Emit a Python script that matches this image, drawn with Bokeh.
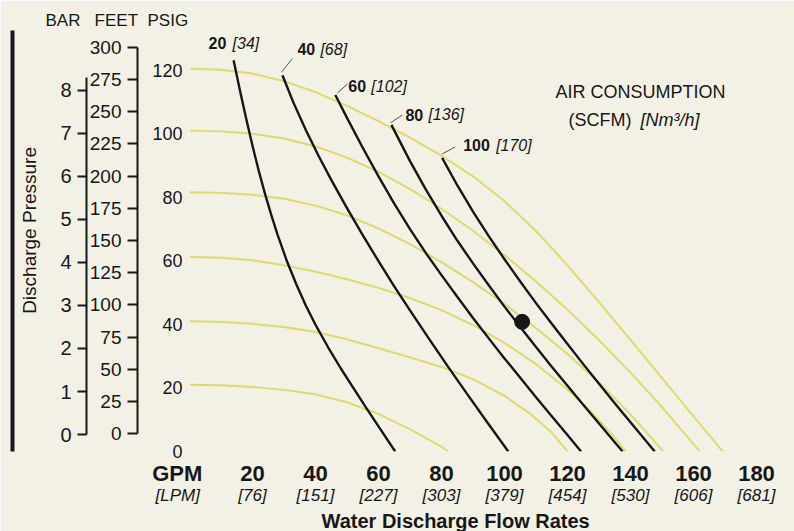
import math
from bokeh.plotting import figure
from bokeh.models import Range1d, LinearAxis, FixedTicker, Label, Title
from bokeh.core.properties import value
from bokeh.embed import file_html
from bokeh.resources import INLINE

# ---------------- data ----------------
gpm_ticks = [0, 20, 40, 60, 80, 100, 120, 140, 160, 180]
gpm_labels = ["GPM", "20", "40", "60", "80", "100", "120", "140", "160", "180"]
lpm_labels = ["[LPM]", "[76]", "[151]", "[227]", "[303]", "[379]", "[454]", "[530]", "[606]", "[681]"]
psig_ticks = [0, 20, 40, 60, 80, 100, 120]
feet_ticks = [0, 25, 50, 75, 100, 125, 150, 175, 200, 225, 250, 275, 300]
bar_ticks = [0, 1, 2, 3, 4, 5, 6, 7, 8]

# air inlet pressure lines (yellow): flow GPM -> discharge PSIG
air20_q = [0, 10, 20, 30, 40, 50, 60, 70, 80, 82]
air20_p = [21, 20.85, 20.3, 19.4, 18.0, 15.5, 11.8, 7.0, 1.5, 0]
air40_q = [0, 10, 20, 30, 40, 50, 60, 70, 80, 90, 100, 108, 115, 120]
air40_p = [41, 40.8, 40.2, 39.2, 37.6, 35.3, 32.5, 29.6, 26.6, 22.8, 17.5, 12, 6, 0]
air60_q = [0, 10, 20, 30, 40, 50, 60, 70, 80, 90, 100, 110, 120, 128, 134, 138.5]
air60_p = [61.25, 61, 60.2, 58.6, 56.6, 54.2, 51.5, 48.3, 44.5, 39.8, 34.2, 27.5, 19.5, 12, 5.5, 0]
air80_q = [0, 10, 20, 30, 40, 50, 60, 70, 80, 90, 100, 110, 120, 130, 140, 150.4]
air80_p = [81.6, 81.4, 80.8, 79.55, 77.4, 74.3, 70.2, 65.25, 59.6, 53.3, 46.4, 38.9, 30.7, 21.7, 11.7, 0]
air100_q = [0, 10, 20, 30, 40, 50, 60, 70, 80, 90, 100, 110, 120, 130, 140, 150, 160, 162]
air100_p = [101, 100.75, 100, 98.5, 96, 92.5, 88, 82.6, 76.4, 69.45, 61.8, 53.5, 44.6, 35.05, 24.85, 13.95, 2.35, 0]
air120_q = [0, 10, 20, 30, 40, 50, 60, 70, 80, 90, 100, 110, 120, 130, 140, 150, 160, 169.3]
air120_p = [120.5, 120.15, 118.95, 116.55, 113.1, 108.8, 104.0, 98.8, 93.1, 86.6, 78.8, 69.4, 58.6, 47, 35.1, 23.1, 11.1, 0]

# air consumption lines (black): flow GPM -> discharge PSIG
scfm20_q = [14, 16, 18, 20, 22, 24, 26, 28, 31, 34, 37, 40, 44, 48, 52, 56, 60, 65.3]
scfm20_p = [123.1, 113.7, 104.7, 96.2, 88.3, 81, 74.3, 68.1, 59.7, 52.4, 45.8, 39.9, 32.8, 26.2, 20, 13.9, 7.9, 0]
scfm40_q = [29.5, 33, 37, 41, 45, 50, 55, 60, 65, 70, 76, 82, 88, 94, 101.2]
scfm40_p = [118.4, 109.8, 101, 93, 85.5, 76.6, 68.1, 59.9, 52, 44.4, 35.5, 26.8, 18.3, 9.9, 0]
scfm60_q = [46.3, 50, 55, 60, 65, 70, 75, 80, 85, 90, 95, 100, 105, 110, 115, 120, 124.3]
scfm60_p = [112.2, 105, 95.6, 86.6, 78, 70, 62.5, 55.5, 48.7, 42, 35.6, 29.3, 23.2, 17.1, 11.1, 5.2, 0]
scfm80_q = [64.1, 70, 75, 80, 85, 90, 95, 100, 105, 110, 115, 120, 125, 130, 135, 137.5]
scfm80_p = [102.8, 91.4, 82.5, 74.2, 66.4, 59.2, 52.3, 45.6, 39.2, 32.9, 26.7, 20.7, 14.7, 8.8, 2.9, 0]
scfm100_q = [80.2, 85, 90, 95, 100, 105, 110, 115, 120, 125, 130, 135, 140, 145, 147.7]
scfm100_p = [92.4, 83.8, 75.5, 67.8, 60.5, 53.5, 46.7, 40.2, 33.8, 27.5, 21.3, 15.2, 9.2, 3.2, 0]

scfm_values = [20, 40, 60, 80, 100]
nm3h_values = [34, 68, 102, 136, 170]

point_q = [105.6]
point_p = [40.8]

# ---------------- layout ----------------
FONT = "Liberation Sans"
BG = "#F3F0E5"
YELLOW = "#DEDA6C"
INK = "#171717"
NB = "\u00a0"

PAGE_X0, PAGE_Y0 = 0, 0
CANVAS_W, CANVAS_H = 794, 531
FRAME_L, FRAME_T = 189, 30        # frame edges on the page
FRAME_R, FRAME_B = PAGE_X0 + CANVAS_W, 454
X_END = (FRAME_R - FRAME_L) / 3.15
Y_END = (FRAME_B - FRAME_T) / 3.2
SX = (FRAME_R - FRAME_L) / X_END
SY = (FRAME_B - FRAME_T) / Y_END


def x_of(px):
    return (px - FRAME_L) / SX


def y_of(py):
    return (FRAME_B - py) / SY


p = figure(width=CANVAS_W, height=CANVAS_H, output_backend="svg", toolbar_location=None,
           x_range=Range1d(0, X_END), y_range=Range1d(0, Y_END),
           min_border_left=FRAME_L - PAGE_X0, min_border_right=0,
           min_border_top=FRAME_T - PAGE_Y0, min_border_bottom=PAGE_Y0 + CANVAS_H - FRAME_B,
           background_fill_color=BG, border_fill_color=BG, outline_line_color=None)
p.xgrid.visible = False
p.ygrid.visible = False

# header over the three pressure scales
p.title.text = "BAR" + NB * 3 + "FEET" + NB * 2 + "PSIG"
p.title.align = "left"
p.title.offset = 45 - FRAME_L
p.title.text_font = FONT
p.title.text_font_size = "17px"
p.title.text_font_style = "normal"
p.title.text_color = INK
p.title.standoff = 2

# extra ranges: feet of water and bar
feet_px = (436 - 47) / 300.0
bar_px = (437 - 90) / 8.0
feet0 = -(FRAME_B - 436) / feet_px
bar0 = -(FRAME_B - 437) / bar_px
p.extra_y_ranges = {
    "feet": Range1d(feet0, feet0 + (FRAME_B - FRAME_T) / feet_px),
    "bar": Range1d(bar0, bar0 + (FRAME_B - FRAME_T) / bar_px),
}

# PSIG axis (nearest to the frame)
ya = p.yaxis[0]
ya.ticker = FixedTicker(ticks=psig_ticks)
ya.axis_line_color = None
ya.major_tick_line_color = None
ya.major_tick_out = 0
ya.major_tick_in = 0
ya.minor_tick_line_color = None
ya.major_label_standoff = 7
ya.major_label_text_font = FONT
ya.major_label_text_font_size = "18px"
ya.major_label_text_color = INK
ya.axis_label = " "
ya.axis_label_text_font_size = "4px"
ya.axis_label_standoff = 4

feet_axis = LinearAxis(y_range_name="feet", ticker=FixedTicker(ticks=feet_ticks), bounds=(0, 300),
                       axis_line_width=2, axis_line_color=INK,
                       major_tick_out=10, major_tick_in=0, major_tick_line_width=2,
                       major_tick_line_color=INK, minor_tick_line_color=None,
                       major_label_standoff=6, major_label_text_font=FONT,
                       major_label_text_font_size="19px", major_label_text_color=INK)
p.add_layout(feet_axis, "left")

bar_axis = LinearAxis(y_range_name="bar", ticker=FixedTicker(ticks=bar_ticks), bounds=(0, 8.3),
                      axis_line_width=2, axis_line_color=INK,
                      major_tick_out=9, major_tick_in=0, major_tick_line_width=2,
                      major_tick_line_color=INK, minor_tick_line_color=None,
                      major_label_standoff=6, major_label_text_font=FONT,
                      major_label_text_font_size="20px", major_label_text_color=INK,
                      axis_label=NB * 4 + "Discharge Pressure", axis_label_standoff=17,
                      axis_label_text_font=FONT, axis_label_text_font_size="19px",
                      axis_label_text_font_style="normal", axis_label_text_color=INK)
p.add_layout(bar_axis, "left")

# small gap, then the black page border as the outermost left rule
spacer_axis = LinearAxis(ticker=FixedTicker(ticks=[]), axis_line_color=None,
                         major_tick_out=0, major_tick_in=0, major_label_standoff=0,
                         axis_label=" ", axis_label_text_font_size="1px", axis_label_standoff=0)
p.add_layout(spacer_axis, "left")
border_axis = LinearAxis(ticker=FixedTicker(ticks=[]), bounds=(-30, 150),
                         axis_line_color=INK, axis_line_width=4,
                         major_tick_out=0, major_tick_in=0, major_label_standoff=0)
p.add_layout(border_axis, "left")

# GPM axis
xa = p.xaxis[0]
xa.ticker = FixedTicker(ticks=gpm_ticks)
xa.major_label_overrides = {t: (s + NB * 4 if t == 0 else s) for t, s in zip(gpm_ticks, gpm_labels)}
xa.axis_line_color = None
xa.major_tick_line_color = None
xa.major_tick_out = 0
xa.major_tick_in = 0
xa.minor_tick_line_color = None
xa.major_label_standoff = 9
xa.major_label_text_font = FONT
xa.major_label_text_font_size = "22px"
xa.major_label_text_font_style = "bold"
xa.major_label_text_color = INK

lpm_axis = LinearAxis(ticker=FixedTicker(ticks=gpm_ticks),
                      major_label_overrides={t: (s + NB * 5 if t == 0 else s)
                                             for t, s in zip(gpm_ticks, lpm_labels)},
                      axis_line_color=None, major_tick_line_color=None, minor_tick_line_color=None,
                      major_tick_out=0, major_tick_in=0,
                      major_label_standoff=-3, major_label_text_font=FONT,
                      major_label_text_font_size="17px", major_label_text_font_style="italic",
                      major_label_text_color=INK)
p.add_layout(lpm_axis, "below")

p.add_layout(Title(text="Water Discharge Flow Rates", align="left", offset=321 - FRAME_L,
                   text_font=FONT, text_font_size="20px", text_font_style="bold",
                   text_color=INK, standoff=0), "below")

# ---------------- curves ----------------
for q, pr in [(air20_q, air20_p), (air40_q, air40_p), (air60_q, air60_p),
              (air80_q, air80_p), (air100_q, air100_p), (air120_q, air120_p)]:
    p.line(q, pr, line_color=YELLOW, line_width=1.9, line_join="round")

black = [(scfm20_q, scfm20_p), (scfm40_q, scfm40_p), (scfm60_q, scfm60_p),
         (scfm80_q, scfm80_p), (scfm100_q, scfm100_p)]
for q, pr in black:
    p.line(q, pr, line_color=INK, line_width=2.4, line_join="round")

p.scatter(point_q, point_p, size=15, fill_color=INK, line_color=INK)

# curve labels near each air-consumption line start (pixel offsets)
num_dx = [-25, 15, 13, 14, 21]
num_dy = [-17, -26, -9, -10, -13]
br_dx = [-1, 38, 36, 37, 54]
lead = [None, (-1, -3, 10, -17), (2, -2, 12, -11), (-1, -2, 11, -10), (0, -4, 13, -11)]

sx0 = [c[0][0] for c in black]
sy0 = [c[1][0] for c in black]
num_x = [q + dx / SX for q, dx in zip(sx0, num_dx)]
num_y = [v - dy / SY for v, dy in zip(sy0, num_dy)]
br_x = [q + dx / SX for q, dx in zip(sx0, br_dx)]
p.text(num_x, num_y, text=[str(v) for v in scfm_values], text_font=value(FONT),
       text_font_size="16px", text_font_style="bold", text_color=INK,
       text_align="left", text_baseline="middle")
p.text(br_x, num_y, text=["[%d]" % v for v in nm3h_values], text_font=value(FONT),
       text_font_size="16px", text_font_style="italic", text_color=INK,
       text_align="left", text_baseline="middle")
lx0, ly0, lx1, ly1 = [], [], [], []
for q, v, ld in zip(sx0, sy0, lead):
    if ld is None:
        continue
    lx0.append(q + ld[0] / SX)
    ly0.append(v - ld[1] / SY)
    lx1.append(q + ld[2] / SX)
    ly1.append(v - ld[3] / SY)
p.segment(lx0, ly0, lx1, ly1, line_color="#555555", line_width=1)


# ---------------- texts inside the frame ----------------
def add_label(text, px, py, size, style="normal", align="center"):
    p.add_layout(Label(x=x_of(px), y=y_of(py), text=text, text_font=FONT,
                       text_font_size=size, text_font_style=style, text_color=INK,
                       text_align=align, text_baseline="middle"))


add_label("AIR CONSUMPTION", 640, 92, "18px")
add_label("(SCFM)", 568, 120, "18px", align="left")
add_label("[Nm\u00b3/h]", 640, 120, "18px", style="italic", align="left")

open("out.html", "w").write(file_html(p, INLINE))
